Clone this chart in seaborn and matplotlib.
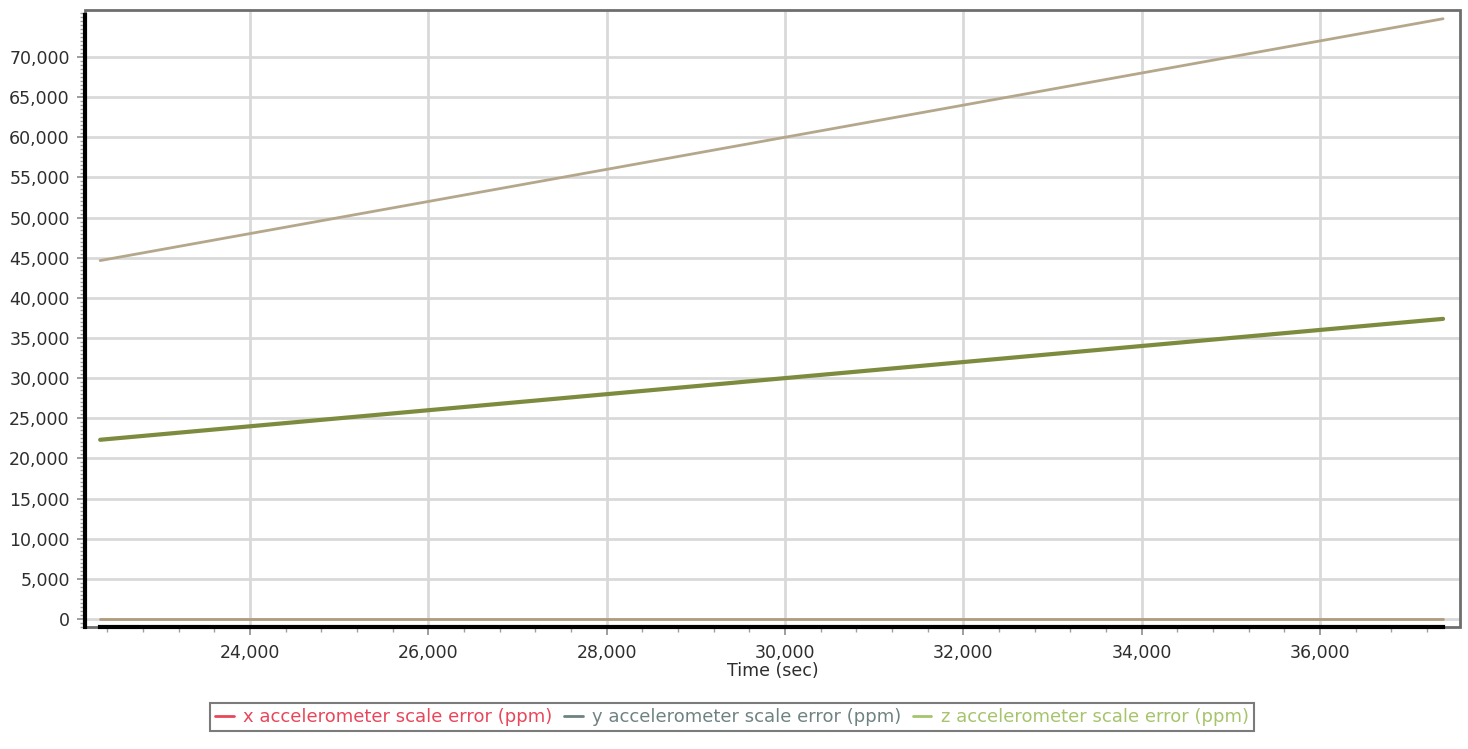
import numpy as np
import pandas as pd
import matplotlib
matplotlib.use("Agg")
import matplotlib.pyplot as plt
from matplotlib.lines import Line2D
from matplotlib.patches import Rectangle
from matplotlib.ticker import FuncFormatter, MultipleLocator, FixedLocator
import seaborn as sns

# Sample times (s) and the three scale-error series (ppm)
time_sec = [22320, 24000, 26000, 28000, 30000, 32000, 34000, 36000, 37380]
x_scale_err = [44640, 48000, 52000, 56000, 60000, 64000, 68000, 72000, 74760]
y_scale_err = [0, 0, 0, 0, 0, 0, 0, 0, 0]
z_scale_err = [22320, 24000, 26000, 28000, 30000, 32000, 34000, 36000, 37380]

y_ticks = [0, 5000, 10000, 15000, 20000, 25000, 30000, 35000,
           40000, 45000, 50000, 55000, 60000, 65000, 70000]

series_names = [
    "x accelerometer scale error (ppm)",
    "y accelerometer scale error (ppm)",
    "z accelerometer scale error (ppm)",
]
line_colors = ["#b5a78c", "#b09c7c", "#7c8b3e"]
line_widths = [2.0, 2.0, 3.0]
legend_colors = ["#e8465a", "#6f8282", "#a6c46c"]

df = pd.DataFrame({
    "time": time_sec * 3,
    "value": x_scale_err + y_scale_err + z_scale_err,
    "series": [series_names[0]] * len(time_sec)
              + [series_names[1]] * len(time_sec)
              + [series_names[2]] * len(time_sec),
})

sns.set_theme(style="white")
plt.rcParams["font.family"] = ["DejaVu Sans"]

fig = plt.figure(figsize=(14.68, 7.49), dpi=100)
ax = fig.add_axes([85 / 1468, 1 - 627 / 749, (1460 - 85) / 1468, (627 - 10) / 749])

for name, col, lw in zip(series_names, line_colors, line_widths):
    sns.lineplot(data=df[df["series"] == name], x="time", y="value",
                 color=col, linewidth=lw, ax=ax, legend=False, zorder=3)

ax.set_xlim(22150, 37570)
ax.set_ylim(-1000, 75850)

fmt = FuncFormatter(lambda v, p: f"{int(round(v)):,}")
ax.xaxis.set_major_locator(MultipleLocator(2000))
ax.xaxis.set_minor_locator(MultipleLocator(400))
ax.yaxis.set_major_locator(FixedLocator(y_ticks))
ax.yaxis.set_minor_locator(MultipleLocator(500))
ax.xaxis.set_major_formatter(fmt)
ax.yaxis.set_major_formatter(fmt)

ax.grid(True, which="major", color="#d9d9d9", linewidth=2.0, zorder=0)
ax.set_axisbelow(True)

ax.tick_params(axis="both", which="both", bottom=True, left=True,
               top=False, right=False)
ax.tick_params(axis="both", which="major", labelsize=12.5, colors="#8c8c8c",
               labelcolor="#2e2e2e", length=6, width=1.2, direction="out")
ax.tick_params(axis="both", which="minor", colors="#a0a0a0", length=3.5,
               width=1.0, direction="out")
ax.tick_params(axis="x", which="major", pad=6)
ax.tick_params(axis="y", which="major", pad=5)

ax.set_xlabel("Time (sec)", fontsize=12.5, color="#2e2e2e", labelpad=0)
ax.set_ylabel("")

# Gray outer frame with black axis lines along the data extent
for s in ax.spines.values():
    s.set_visible(False)
ax.add_patch(Rectangle((0, 0), 1, 1, transform=ax.transAxes, fill=False,
                       edgecolor="#6e6e6e", linewidth=2.0, clip_on=False, zorder=4))
ax.spines["bottom"].set_visible(True)
ax.spines["bottom"].set_color("#000000")
ax.spines["bottom"].set_linewidth(3.0)
ax.spines["bottom"].set_bounds(time_sec[0], time_sec[-1])
ax.spines["bottom"].set_zorder(5)
ax.spines["left"].set_visible(True)
ax.spines["left"].set_color("#000000")
ax.spines["left"].set_linewidth(3.0)
ax.spines["left"].set_bounds(-1000, 75200)
ax.spines["left"].set_zorder(5)

handles = [Line2D([0], [0], color=c, linewidth=2.0) for c in legend_colors]
leg = fig.legend(handles, series_names, loc="center", ncol=3,
                 bbox_to_anchor=(732 / 1468, 1 - 717 / 749),
                 fontsize=13, frameon=True, fancybox=False,
                 handlelength=1.0, handletextpad=0.5, columnspacing=0.7,
                 borderpad=0.3)
leg.get_frame().set_edgecolor("#5a5a5a")
leg.get_frame().set_linewidth(1.5)
for txt, c in zip(leg.get_texts(), legend_colors):
    txt.set_color(c)

fig.savefig("out.png", dpi=100, facecolor="white")
